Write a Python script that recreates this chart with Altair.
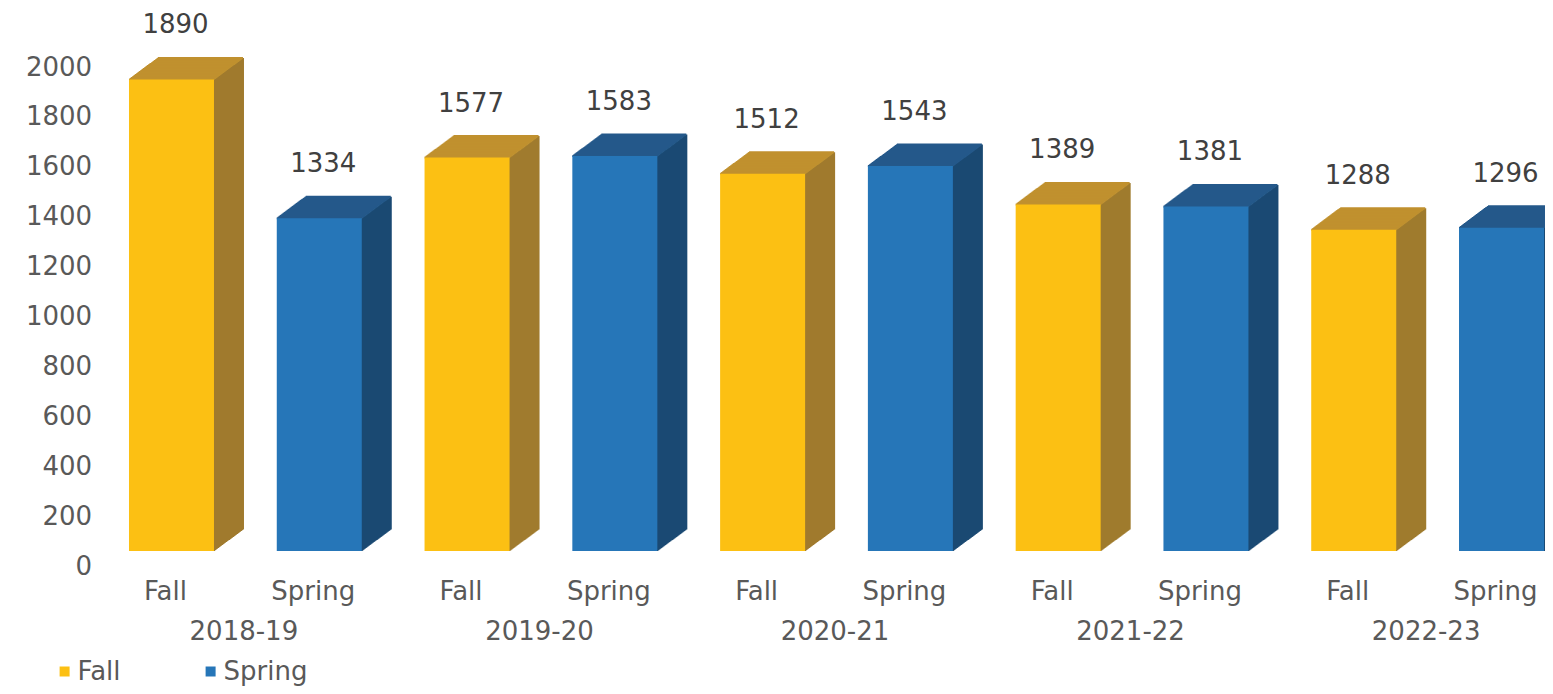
import altair as alt
import pandas as pd

years = ["2018-19", "2019-20", "2020-21", "2021-22", "2022-23"]
semesters = ["Fall", "Spring"]
fall = [1890, 1577, 1512, 1389, 1288]
spring = [1334, 1583, 1543, 1381, 1296]

FONT = "DejaVu Sans"
front_c = {"Fall": "#FCC013", "Spring": "#2676B8"}
top_c = {"Fall": "#C0912F", "Spring": "#24598A"}
side_c = {"Fall": "#A07B2E", "Spring": "#1B4A73"}

rows = []
for i, y in enumerate(years):
    for s, vals in (("Fall", fall), ("Spring", spring)):
        rows.append({"key": f"{y}|{s}", "year": y, "sem": s, "value": vals[i],
                     "topc": top_c[s], "sidec": side_c[s]})
df = pd.DataFrame(rows)
keys = list(df["key"])
ydf = pd.DataFrame({"year": years, "val": [0] * len(years)})

SPAN = 1477.8
BARW = 85
DEPTH_X = 29
DEPTH_Y = 21.5
NSTEP = 29

yscale = alt.Scale(domain=[0, 2000], nice=False, zero=True)
yaxis = alt.Axis(title=None, values=list(range(0, 2001, 200)), format="d", grid=False,
                 ticks=False, tickSize=0, domain=False, labelFont=FONT, labelFontSize=26,
                 labelColor="#595959", labelPadding=6, labelOffset=15)
xscale = alt.Scale(domain=keys, range=[0, SPAN], paddingInner=0, paddingOuter=0, round=False)
xaxis = alt.Axis(title=None, labelExpr="split(datum.label, '|')[1]", ticks=False,
                 tickSize=0, domain=False, grid=False, labelFont=FONT, labelFontSize=26,
                 labelColor="#595959", labelPadding=27.5, labelOffset=-6, labelAngle=0)

X = alt.X("key:N", sort=keys, scale=xscale, axis=xaxis)
Y = alt.Y("value:Q", scale=yscale, axis=yaxis)

base = alt.Chart(df)
layers = []
for k in range(NSTEP, -1, -1):
    dx = k * DEPTH_X / NSTEP
    dy = -k * DEPTH_Y / NSTEP
    layers.append(base.mark_bar(width=2, xOffset=BARW / 2 + dx, yOffset=dy, opacity=1)
                  .encode(x=X, y=Y, color=alt.Color("sidec:N", scale=None)))
for k in range(NSTEP, -1, -1):
    dx = k * DEPTH_X / NSTEP
    dy = -k * DEPTH_Y / NSTEP
    layers.append(base.mark_tick(size=BARW, thickness=2, xOffset=dx, yOffset=dy, opacity=1)
                  .encode(x=X, y=Y, color=alt.Color("topc:N", scale=None)))

front = base.mark_bar(width=BARW, opacity=1).encode(
    x=X, y=Y,
    color=alt.Color("sem:N", scale=alt.Scale(domain=semesters,
                                             range=[front_c["Fall"], front_c["Spring"]]),
                    legend=alt.Legend(title=None, orient="none", legendX=-46, legendY=606.5,
                                      direction="horizontal", symbolType="square",
                                      symbolSize=100, symbolStrokeWidth=0,
                                      labelFont=FONT, labelFontSize=26,
                                      labelColor="#595959", columnPadding=77,
                                      labelOffset=0)),
)
labels = base.mark_text(font=FONT, fontSize=26, color="#404040", baseline="middle",
                        dy=-54, dx=4).encode(x=X, y=Y, text="value:Q")

inner = alt.layer(*layers, front, labels)

year_layer = alt.Chart(ydf).mark_point(opacity=0).encode(
    x=alt.X("year:N", sort=years,
            scale=alt.Scale(domain=years, range=[0, SPAN], paddingInner=0, paddingOuter=0,
                            round=False),
            axis=alt.Axis(title=None, orient="bottom", ticks=False, tickSize=0, domain=False,
                          grid=False, labelFont=FONT, labelFontSize=26, labelColor="#595959",
                          labelPadding=67.5, labelOffset=-2, labelAngle=0)),
    y=alt.Y("val:Q", scale=yscale, axis=yaxis),
)

chart = alt.layer(inner, year_layer).resolve_scale(x="independent").properties(
    width=1447.4, height=499,
    autosize=alt.AutoSizeParams(type="none"),
    padding={"left": 89.6, "top": 44, "right": 0, "bottom": 135},
).configure(background="white").configure_view(stroke=None, strokeWidth=0)

chart.save("out.html", embed_options={"renderer": "svg", "actions": False})
